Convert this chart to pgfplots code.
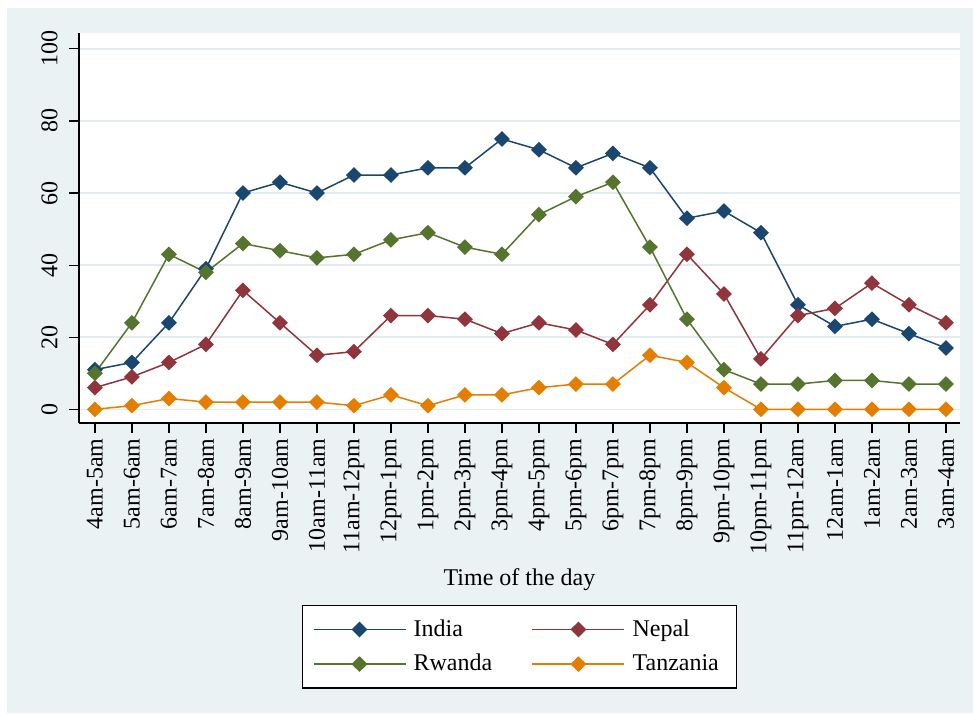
\documentclass[border=0pt]{standalone}
\usepackage{fontspec}
\setmainfont{Liberation Serif}
\usepackage{pgfplots}
\pgfplotsset{compat=1.18}

\definecolor{stbg}{RGB}{234,242,243}
\definecolor{stgrid}{RGB}{226,236,238}
\definecolor{cIndia}{RGB}{26,71,111}
\definecolor{cNepal}{RGB}{144,53,59}
\definecolor{cRwanda}{RGB}{85,117,47}
\definecolor{cTanz}{RGB}{227,126,0}

% x = hour slot (0 = 4am-5am ... 23 = 3am-4am)
\pgfplotstableread{
x india nepal rwanda tanzania
0  11  6 10  0
1  13  9 24  1
2  24 13 43  3
3  39 18 38  2
4  60 33 46  2
5  63 24 44  2
6  60 15 42  2
7  65 16 43  1
8  65 26 47  4
9  67 26 49  1
10 67 25 45  4
11 75 21 43  4
12 72 24 54  6
13 67 22 59  7
14 71 18 63  7
15 67 29 45 15
16 53 43 25 13
17 55 32 11  6
18 49 14  7  0
19 29 26  7  0
20 23 28  8  0
21 25 35  8  0
22 21 29  7  0
23 17 24  7  0
}\daytable

\begin{document}
\begin{tikzpicture}[font=\fontsize{12}{14}\selectfont]
% canvas (1px = 0.5pt), axis origin at pixel (79,423)
\fill[white] (-39.5pt,-145pt) rectangle (447pt,211.5pt);
\fill[stbg] (-36pt,-145pt) rectangle (447pt,207.5pt);
\begin{axis}[
    at={(0pt,0pt)}, anchor=south west,
    scale only axis,
    width=440.5pt, height=195pt,
    axis background/.style={fill=white},
    axis lines*=left,
    axis line style={black, line width=0.6pt},
    xmin=-0.43, xmax=23.38,
    ymin=-3.8, ymax=104.4,
    xtick={0,...,23},
    xticklabels={4am-5am,5am-6am,6am-7am,7am-8am,8am-9am,9am-10am,10am-11am,
      11am-12pm,12pm-1pm,1pm-2pm,2pm-3pm,3pm-4pm,4pm-5pm,5pm-6pm,6pm-7pm,
      7pm-8pm,8pm-9pm,9pm-10pm,10pm-11pm,11pm-12am,12am-1am,1am-2am,2am-3am,3am-4am},
    ytick={0,20,40,60,80,100},
    /pgf/number format/assume math mode=true,
    tick align=outside,
    major tick length=5pt,
    tick style={black, line width=0.6pt},
    xticklabel style={rotate=90, anchor=east, inner sep=2.5pt},
    yticklabel style={rotate=90, anchor=south, inner sep=5.5pt},
    ymajorgrids,
    grid style={stgrid, line width=0.8pt},
    xlabel={Time of the day},
    xlabel style={at={(axis description cs:0.5,-0.4154)}, anchor=base},
    every axis plot/.append style={line width=0.75pt, mark=diamond*, mark size=3.4pt,
      mark options={solid, xscale=1.35}},
    legend columns=2,
    legend cell align=left,
    legend style={at={(0.5,-0.4667)}, anchor=north, draw=black, line width=0.6pt,
      fill=white, inner xsep=5pt, inner ysep=5pt, row sep=3.5pt,
      /tikz/every even column/.append style={column sep=16pt},
      nodes={inner xsep=3.7pt, inner ysep=2pt}},
    legend image code/.code={\draw[mark repeat=2, mark phase=2, #1]
      plot coordinates {(0pt,0pt) (23pt,0pt) (46pt,0pt)};},
]
\addplot[color=cIndia] table[x=x, y=india] {\daytable};
\addplot[color=cNepal] table[x=x, y=nepal] {\daytable};
\addplot[color=cRwanda] table[x=x, y=rwanda] {\daytable};
\addplot[color=cTanz] table[x=x, y=tanzania] {\daytable};
\legend{India, Nepal, Rwanda, Tanzania}
\end{axis}
\end{tikzpicture}
\end{document}
